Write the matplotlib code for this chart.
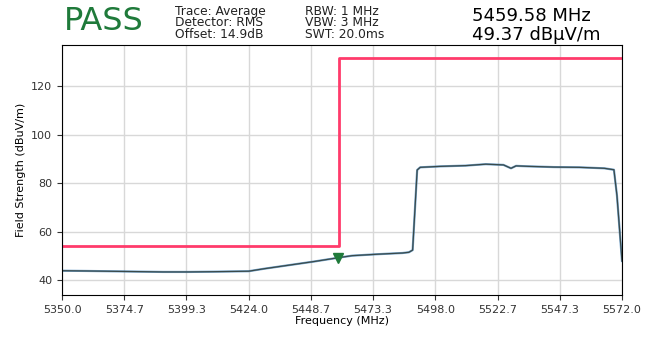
import matplotlib
matplotlib.use("Agg")
import matplotlib.pyplot as plt
import numpy as np

# trace (MHz, dBuV/m)
freq = [5350, 5360, 5375, 5390, 5400, 5410, 5424, 5430, 5440, 5450, 5459.58,
        5465, 5475, 5485, 5487.5, 5489, 5490.8, 5492, 5500, 5510, 5518, 5525,
        5528, 5530, 5535, 5545, 5555, 5565, 5568.8, 5570, 5572]
level = [44.0, 43.9, 43.7, 43.5, 43.5, 43.6, 43.8, 44.8, 46.3, 47.8, 49.37,
         50.2, 50.8, 51.3, 51.6, 52.5, 85.5, 86.6, 87.0, 87.3, 87.9, 87.6,
         86.2, 87.2, 87.0, 86.7, 86.6, 86.2, 85.6, 75.0, 48.0]

limit_freq = [5350, 5460, 5460, 5572]
limit_level = [54.0, 54.0, 131.5, 131.5]

marker_freq = 5459.58
marker_level = 49.37

xticks = np.linspace(5350, 5572, 10)
yticks = [40, 60, 80, 100, 120]

fig = plt.figure(figsize=(6.45, 3.39), dpi=100)
ax = fig.add_axes([62 / 645, 1 - 295 / 339, 560 / 645, 250 / 339])

ax.plot(freq, level, color="#3b7fb8", lw=1.6, alpha=0.7)
ax.plot(freq, level, color="#3a4a4a", lw=0.9)
ax.plot(limit_freq, limit_level, color="#ff3b6b", lw=2)
ax.plot(marker_freq, marker_level, marker="v", color="#1f7a3a", ms=7)

ax.set_xlim(5350, 5572)
ax.set_ylim(34, 137)
ax.set_xticks(xticks)
ax.set_xticklabels([f"{t:.1f}" for t in xticks])
ax.set_yticks(yticks)
ax.tick_params(labelsize=8, colors="#333333")
ax.grid(True, color="#d8d8d8", lw=1)
ax.set_xlabel("Frequency (MHz)", fontsize=8, labelpad=1)
ax.set_ylabel("Field Strength (dBuV/m)", fontsize=8)

fig.text(64 / 645, 1 - 21 / 339, "PASS", color="#1f7a3a", fontsize=23, va="center")
fig.text(175 / 645, 1 - 23 / 339, "Trace: Average\nDetector: RMS\nOffset: 14.9dB",
         fontsize=8.8, va="center", linespacing=0.85, color="#222222")
fig.text(305 / 645, 1 - 23 / 339, "RBW: 1 MHz\nVBW: 3 MHz\nSWT: 20.0ms",
         fontsize=8.8, va="center", linespacing=0.85, color="#222222")
fig.text(472 / 645, 1 - 16 / 339, "5459.58 MHz", fontsize=13, va="center")
fig.text(472 / 645, 1 - 35 / 339, "49.37 dBµV/m", fontsize=13, va="center")

fig.savefig("out.png", dpi=100)
